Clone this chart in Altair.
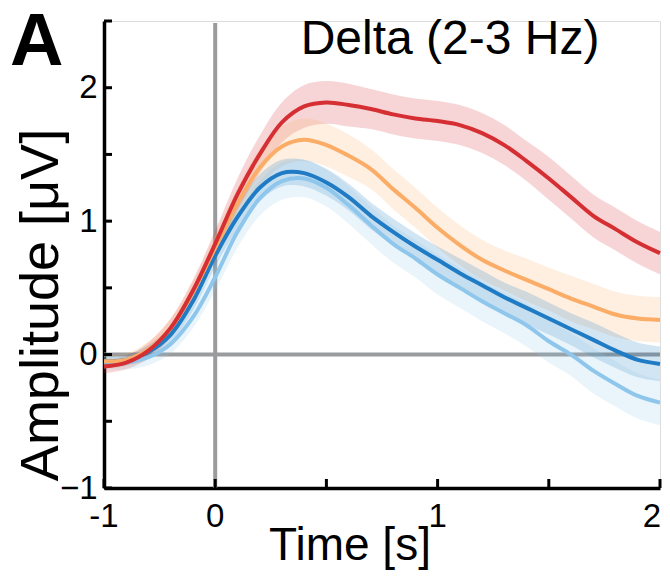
import altair as alt
import pandas as pd

# ---- data ----
time_s = [-0.5, -0.4, -0.3, -0.2, -0.1, 0.0, 0.1, 0.2, 0.3, 0.4, 0.5, 0.6, 0.7,
          0.8, 0.9, 1.0, 1.1, 1.2, 1.3, 1.4, 1.5, 1.6, 1.7, 1.8, 1.9, 2.0]

red_mean = [-0.09, -0.06, 0.03, 0.20, 0.48, 0.83, 1.20, 1.50, 1.74, 1.86, 1.89, 1.87, 1.84,
            1.80, 1.77, 1.75, 1.72, 1.66, 1.57, 1.45, 1.32, 1.18, 1.04, 0.94, 0.84, 0.76]
red_se = [0.05, 0.05, 0.06, 0.07, 0.08, 0.10, 0.12, 0.14, 0.15, 0.16, 0.16, 0.16, 0.15,
          0.15, 0.15, 0.15, 0.15, 0.15, 0.15, 0.15, 0.16, 0.16, 0.16, 0.16, 0.16, 0.16]

orange_mean = [-0.05, -0.04, 0.04, 0.20, 0.47, 0.80, 1.13, 1.40, 1.56, 1.61, 1.57, 1.49, 1.39,
               1.24, 1.10, 0.95, 0.82, 0.71, 0.63, 0.56, 0.49, 0.42, 0.36, 0.30, 0.27, 0.26]
orange_se = [0.05, 0.05, 0.06, 0.07, 0.08, 0.10, 0.12, 0.14, 0.15, 0.16, 0.16, 0.16, 0.15,
             0.15, 0.15, 0.15, 0.15, 0.15, 0.15, 0.16, 0.16, 0.17, 0.17, 0.17, 0.17, 0.17]

blue_mean = [-0.05, -0.04, 0.02, 0.15, 0.40, 0.74, 1.03, 1.25, 1.36, 1.36, 1.29, 1.18, 1.04,
             0.92, 0.81, 0.71, 0.61, 0.52, 0.43, 0.35, 0.27, 0.19, 0.11, 0.03, -0.04, -0.07]
blue_se = [0.04, 0.04, 0.05, 0.06, 0.07, 0.08, 0.09, 0.10, 0.10, 0.10, 0.10, 0.10, 0.10,
           0.10, 0.10, 0.10, 0.11, 0.11, 0.11, 0.12, 0.12, 0.12, 0.13, 0.13, 0.13, 0.13]

light_mean = [-0.06, -0.06, -0.02, 0.08, 0.28, 0.58, 0.92, 1.17, 1.30, 1.32, 1.25, 1.12, 0.97,
              0.83, 0.72, 0.60, 0.50, 0.40, 0.31, 0.22, 0.10, 0.00, -0.12, -0.22, -0.31, -0.36]
light_se = [0.05, 0.05, 0.06, 0.07, 0.08, 0.10, 0.12, 0.13, 0.14, 0.14, 0.14, 0.14, 0.14,
            0.14, 0.14, 0.15, 0.15, 0.15, 0.15, 0.16, 0.16, 0.16, 0.17, 0.17, 0.17, 0.17]

series_names = ["light", "blue", "orange", "red"]
series_colors = ["#8fc6ec", "#1f7bc4", "#fbad68", "#d62f33"]
series_means = [light_mean, blue_mean, orange_mean, red_mean]
series_ses = [light_se, blue_se, orange_se, red_se]

x_tick_values = [-0.5, 0.0, 0.5, 1.0, 1.5, 2.0]
y_tick_values = [-1.0, -0.5, 0.0, 0.5, 1.0, 1.5, 2.0, 2.5]
x_label_values = [-0.5, 0.0, 1.0]
x_label_texts = ["-1", "0", "1"]
x_last_value = [2.0]
x_last_text = ["2"]
y_label_values = [-1, 0, 1, 2]

title_text = "Delta (2-3 Hz)"
panel_letter = "A"
x_title = "Time [s]"
y_title = "Amplitude [μV]"

# ---- layout ----
W, H = 556, 467
FONT = "Liberation Sans"

xs = alt.Scale(domain=[-0.5, 2.0], nice=False, zero=False)
ys = alt.Scale(domain=[-1.0, 2.5], nice=False, zero=False)

xaxis = alt.Axis(values=[-0.5, 0.0, 1.0, 2.0], title=None, grid=False, ticks=False, tickSize=0,
                 labels=False, domainColor="black", domainWidth=3.5)
yaxis = alt.Axis(values=y_label_values, title=None, grid=False, ticks=False, tickSize=0,
                 domainColor="black", domainWidth=3.5, labelFontSize=33, labelFont=FONT,
                 labelColor="black", labelPadding=7, labelFlush=False, labelOverlap=False,
                 format="d")

X = lambda f: alt.X(f, type="quantitative", scale=xs, axis=xaxis)
Y = lambda f: alt.Y(f, type="quantitative", scale=ys, axis=yaxis)

frames = []
for n, m, s in zip(series_names, series_means, series_ses):
    frames.append(pd.DataFrame({
        "t": time_s, "v": m,
        "lo": [a - b for a, b in zip(m, s)],
        "hi": [a + b for a, b in zip(m, s)],
        "cond": n,
    }))

layers = []

# zero reference lines
zero_v = alt.Chart(pd.DataFrame({"t": [0.0]})).mark_rule(color="#9a9b9d", strokeWidth=4).encode(
    x=X("t"), y=alt.value(2), y2=alt.value(H))
zero_h = alt.Chart(pd.DataFrame({"v": [0.0]})).mark_rule(color="#9a9b9d", strokeWidth=4).encode(
    y=Y("v"), x=alt.value(0), x2=alt.value(W))
layers += [zero_v, zero_h]

# bands
for df, c in reversed(list(zip(frames, series_colors))):
    layers.append(alt.Chart(df).mark_area(color=c, opacity=0.2, interpolate="catmull-rom").encode(
        x=X("t"), y=Y("lo"), y2="hi"))

# mean lines
for df, c in zip(frames, series_colors):
    layers.append(alt.Chart(df).mark_line(color=c, strokeWidth=4, interpolate="catmull-rom").encode(
        x=X("t"), y=Y("v")))

# inward ticks
yt = alt.Chart(pd.DataFrame({"v": y_tick_values})).mark_rule(color="black", strokeWidth=3).encode(
    y=Y("v"), x=alt.value(0), x2=alt.value(8))
xt = alt.Chart(pd.DataFrame({"t": x_tick_values})).mark_rule(color="black", strokeWidth=3).encode(
    x=X("t"), y=alt.value(H), y2=alt.value(H - 9))
layers += [yt, xt]

# x tick labels
xl = alt.Chart(pd.DataFrame({"t": x_label_values, "label": x_label_texts})).mark_text(
    font=FONT, fontSize=33, color="black", align="center", baseline="alphabetic").encode(
    x=X("t"), y=alt.value(H + 39), text="label:N")
xl2 = alt.Chart(pd.DataFrame({"t": x_last_value, "label": x_last_text})).mark_text(
    font=FONT, fontSize=33, color="black", align="right", baseline="alphabetic", dx=1).encode(
    x=X("t"), y=alt.value(H + 39), text="label:N")
layers += [xl, xl2]

# texts
def txt(label, **kw):
    return alt.Chart(pd.DataFrame({"label": [label]})).mark_text(font=FONT, color="black", **kw)

layers.append(txt(panel_letter, fontSize=74, fontWeight="bold", align="left", baseline="alphabetic").encode(
    text="label:N", x=alt.value(-94), y=alt.value(44)))
layers.append(txt(title_text, fontSize=48, align="center", baseline="alphabetic").encode(
    text="label:N", x=alt.value(346), y=alt.value(33)))
layers.append(txt(y_title, fontSize=54, align="center", baseline="alphabetic", angle=270).encode(
    text="label:N", x=alt.value(-46), y=alt.value(284)))
layers.append(txt(x_title, fontSize=46, align="center", baseline="alphabetic").encode(
    text="label:N", x=alt.value(246), y=alt.value(539)))

chart = alt.layer(*layers).properties(
    width=W, height=H,
    padding={"left": 96, "top": 13, "right": 2, "bottom": 83},
    autosize=alt.AutoSizeParams(type="none"),
).configure_view(stroke=None).configure(background="white")

chart.save("out.html", embed_options={"renderer": "svg", "actions": False})
